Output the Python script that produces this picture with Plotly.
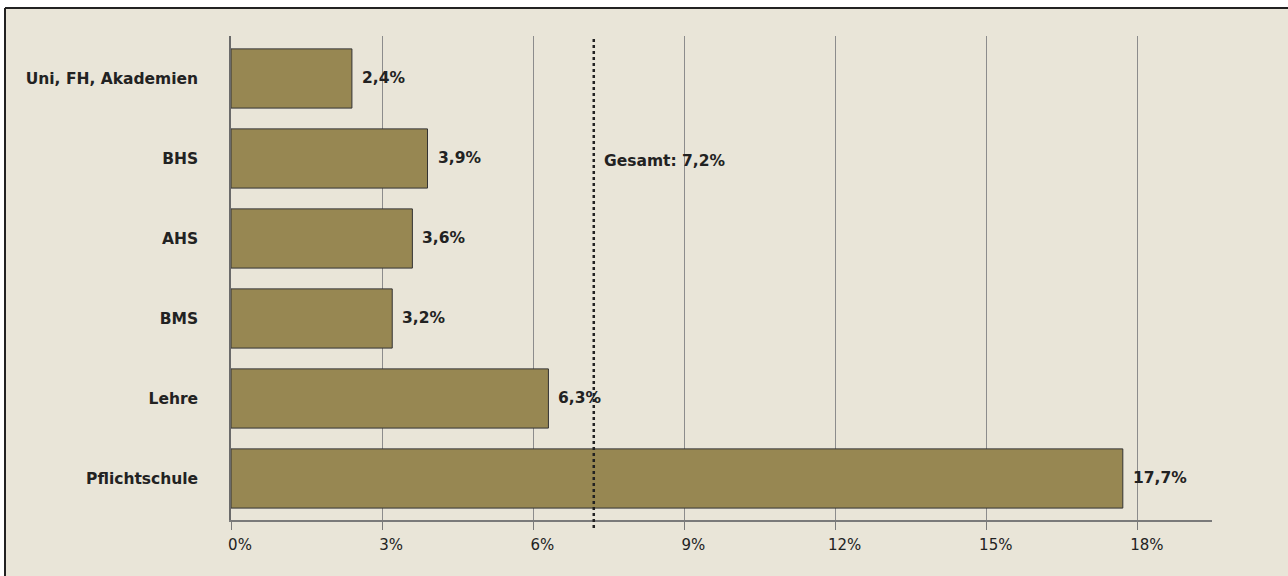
import plotly.graph_objects as go

categories = ["Pflichtschule", "Lehre", "BMS", "AHS", "BHS", "Uni, FH, Akademien"]
values = [17.7, 6.3, 3.2, 3.6, 3.9, 2.4]
total_value = 7.2
total_label = "Gesamt"
x_ticks = [0, 3, 6, 9, 12, 15, 18]
x_tick_labels = ["0%", "3%", "6%", "9%", "12%", "15%", "18%"]

BG = "#E9E5D8"
BAR = "#978752"
TXT = "#222222"

W, H = 1288, 576
L, R, T, B = 231, 76, 36, 56
pw, ph = W - L - R, H - T - B

def fmt(v):
    return f"{v:.1f}".replace(".", ",") + "%"

fig = go.Figure()
fig.add_trace(go.Bar(
    y=categories, x=values, orientation="h",
    marker=dict(color=BAR, line=dict(color="#333333", width=1)),
    width=0.74, hoverinfo="skip", showlegend=False,
))

annotations = []
for c, v in zip(categories, values):
    annotations.append(dict(
        x=v, y=c, xref="x", yref="y", text=fmt(v), showarrow=False,
        xanchor="left", yanchor="middle", xshift=8,
        font=dict(family="DejaVu Sans", size=15.5, color=TXT, weight="bold"),
    ))
annotations.append(dict(
    x=total_value, y=(520 - 161) / ph, xref="x", yref="paper",
    text=f"{total_label}: {fmt(total_value)}", showarrow=False,
    xanchor="left", yanchor="middle", xshift=8,
    font=dict(family="DejaVu Sans", size=15.5, color=TXT, weight="bold"),
))

shapes = [
    # background panel
    dict(type="rect", xref="paper", yref="paper",
         x0=(5 - L) / pw, x1=(W - L) / pw + 0.01,
         y0=(T + ph - H) / ph - 0.01, y1=(T + ph - 8) / ph,
         fillcolor=BG, line=dict(width=0), layer="below"),
    # left border
    dict(type="line", xref="paper", yref="paper",
         x0=(5 - L) / pw, x1=(5 - L) / pw,
         y0=(T + ph - H) / ph - 0.01, y1=(T + ph - 8) / ph,
         line=dict(color="#222222", width=2), layer="below"),
    # top border
    dict(type="line", xref="paper", yref="paper",
         x0=(5 - L) / pw, x1=(W - L) / pw + 0.01,
         y0=(T + ph - 8) / ph, y1=(T + ph - 8) / ph,
         line=dict(color="#222222", width=2), layer="below"),
    # total dotted line
    dict(type="line", xref="x", yref="paper",
         x0=total_value, x1=total_value, y0=-8 / ph, y1=1,
         line=dict(color="#222222", width=2.5, dash="dot"), layer="above"),
]

fig.update_layout(
    width=W, height=H,
    margin=dict(l=L, r=R, t=T, b=B, pad=0),
    paper_bgcolor="white",
    plot_bgcolor="rgba(0,0,0,0)",
    bargap=0.26,
    shapes=shapes,
    annotations=annotations,
    xaxis=dict(
        range=[0, 19.47], tickvals=x_ticks, ticktext=x_tick_labels,
        showgrid=True, gridcolor="#8C8C8C", gridwidth=1,
        zeroline=False,
        showline=True, linecolor="#7A7A7A", linewidth=2,
        ticks="outside", ticklen=8, tickcolor="#7A7A7A", tickwidth=1,
        ticklabelshift=9, ticklabelstandoff=2,
        tickfont=dict(family="DejaVu Sans", size=15, color=TXT),
        fixedrange=True,
    ),
    yaxis=dict(
        categoryorder="array", categoryarray=categories,
        range=[-0.519, 5.531],
        showgrid=False, zeroline=False,
        showline=True, linecolor="#6A6A6A", linewidth=1.5,
        ticks="", ticklabelstandoff=28,
        tickfont=dict(family="DejaVu Sans", size=15.5, color=TXT, weight="bold"),
        fixedrange=True,
    ),
)

fig.write_html("out.html", config={"displayModeBar": False},
               post_script="document.body.style.margin='0';document.body.style.overflow='hidden';")
